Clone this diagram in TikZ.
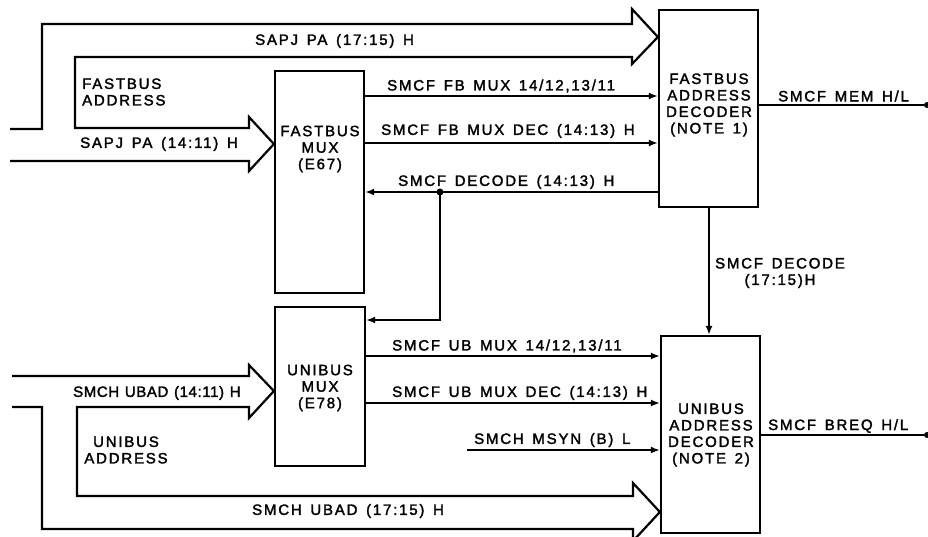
\documentclass[tikz,border=0pt]{standalone}
\usepackage{fontspec}
\setmainfont{Liberation Sans}[LetterSpace=12,WordSpace=1.45,FakeBold=2]
\newfontfamily\tightfont{Liberation Sans}[LetterSpace=4,WordSpace=1.2,FakeBold=2]
\usetikzlibrary{arrows.meta}
\begin{document}
\begin{tikzpicture}[x=1pt,y=-1pt,
  box/.style={draw,line width=2.2pt,inner sep=0pt},
  sig/.style={line width=1.8pt},
  arr/.style={sig,-{Latex[length=9pt,width=7pt]}},
  bus/.style={line width=2.2pt,line join=miter},
  lbl/.style={font=\fontsize{15}{16.5}\selectfont,inner sep=0pt,anchor=west},
  ctxt/.style={font=\fontsize{15}{16.5}\selectfont,inner sep=0pt,align=center},
  dotn/.style={circle,fill,inner sep=0pt,minimum size=7pt}]
\useasboundingbox (0,0) rectangle (928,536);
% boxes
\node[box,minimum width=89pt,minimum height=222pt] (fmux) at (319.5,182) {};
\node[box,minimum width=99pt,minimum height=197pt] (fdec) at (708.5,108.5) {};
\node[box,minimum width=90pt,minimum height=159pt] (umux) at (320,386.5) {};
\node[box,minimum width=99pt,minimum height=197pt] (udec) at (710.5,434.5) {};
\node[ctxt] (fmuxt) at (320,149) {FASTBUS\\MUX\\(E67)};
\node[ctxt] (fdect) at (709,105) {FASTBUS\\ADDRESS\\DECODER\\(NOTE 1)};
\node[ctxt] (umuxt) at (320,388) {UNIBUS\\MUX\\(E78)};
\node[ctxt] (udect) at (711,435) {UNIBUS\\ADDRESS\\DECODER\\(NOTE 2)};
% fastbus bus arrows
\draw[bus] (10,129) -- (42,129) -- (42,24) -- (632,24) -- (632,9) -- (fdec.west |- 0,37)
  -- (632,64) -- (632,57) -- (75,57) -- (75,128) -- (249,128) -- (249,117)
  -- (fmux.west |- 0,144) -- (249,171) -- (249,161) -- (10,161);
% unibus bus arrows
\draw[bus] (12,376) -- (249,376) -- (249,365) -- (umux.west |- 0,391) -- (249,418)
  -- (249,407) -- (77,407) -- (77,496) -- (633,496) -- (633,483) -- (udec.west |- 0,512)
  -- (633,541) -- (633,529) -- (42,529) -- (42,407) -- (12,407);
% signals fastbus
\draw[arr] (fmux.east |- 0,96) -- (fdec.west |- 0,96);
\draw[arr] (fmux.east |- 0,143) -- (fdec.west |- 0,143);
\node[dotn] (j1) at (440,192) {};
\draw[arr] (fdec.west |- 0,192) -- (fmux.east |- 0,192);
\draw[arr] (j1.center) -- (440,320) -- (umux.east |- 0,320);
\node[dotn,minimum size=6pt] (o1) at (927,105) {};
\draw[sig] (fdec.east |- o1) -- (o1);
\draw[arr] (fdec.south -| 709,0) -- (udec.north -| 709,0);
% signals unibus
\draw[arr] (umux.east |- 0,356) -- (udec.west |- 0,356);
\draw[arr] (umux.east |- 0,403) -- (udec.west |- 0,403);
\coordinate (ms) at (467,450);
\draw[arr] (ms) -- (udec.west |- ms);
\node[dotn,minimum size=6pt] (o2) at (927,435) {};
\draw[sig] (udec.east |- o2) -- (o2);
% labels
\node[lbl] (l1) at (255,41) {SAPJ PA (17:15) H};
\node[lbl,align=left] (l2) at (82,92) {FASTBUS\\ADDRESS};
\node[lbl] (l3) at (80,144) {SAPJ PA (14:11) H};
\node[lbl] (l4) at (387,86) {SMCF FB MUX 14/12,13/11};
\node[lbl] (l5) at (381,131) {SMCF FB MUX DEC (14:13) H};
\node[lbl] (l6) at (398,182) {SMCF DECODE (14:13) H};
\node[lbl] (l7) at (778,96) {SMCF MEM H/L};
\node[ctxt] (l8) at (780,273) {SMCF DECODE\\(17:15)H};
\node[lbl] (l9) at (392,346) {SMCF UB MUX 14/12,13/11};
\node[lbl] (l10) at (392,393) {SMCF UB MUX DEC (14:13) H};
\node[lbl] (l11) at (474,440) {SMCH MSYN (B) L};
\node[lbl] (l12) at (768,426) {SMCF BREQ H/L};
\node[lbl,font=\fontsize{15}{16.5}\selectfont\tightfont] (l13) at (73,393) {SMCH UBAD (14:11) H};
\node[ctxt] (l14) at (126,450) {UNIBUS\\ADDRESS};
\node[lbl] (l15) at (252,511) {SMCH UBAD (17:15) H};
\end{tikzpicture}
\end{document}
